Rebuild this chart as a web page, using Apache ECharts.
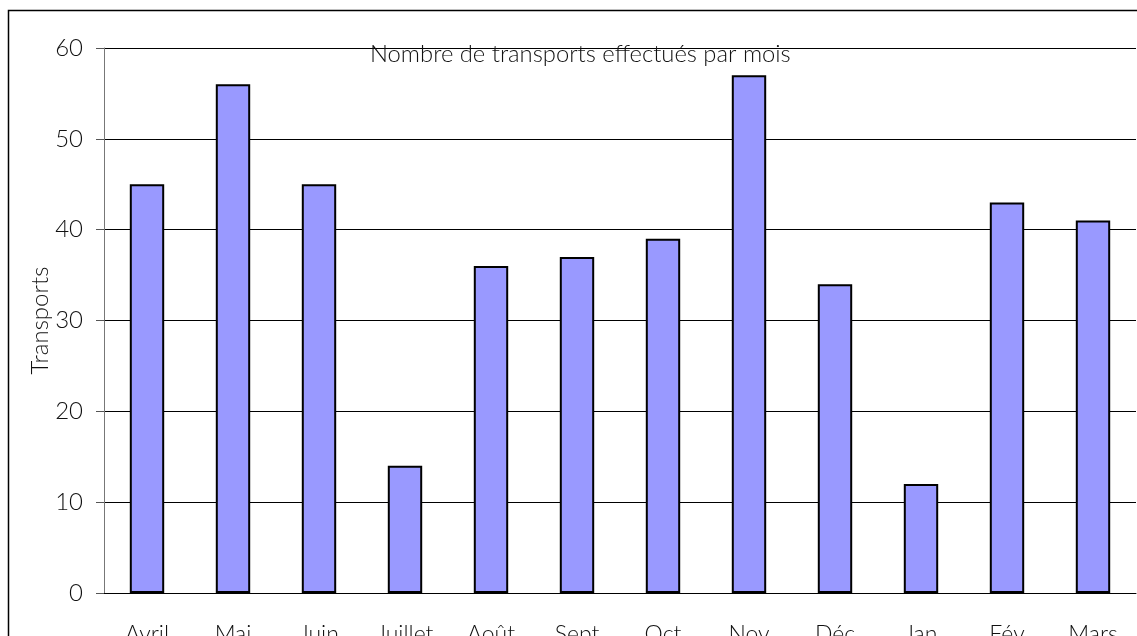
<!DOCTYPE html>
<html>
<head>
<meta charset="utf-8">
<script src="https://cdn.jsdelivr.net/npm/echarts@6/dist/echarts.min.js"></script>
<style>
  html, body { margin: 0; padding: 0; background: #fff; }
  #chart { width: 1137px; height: 636px; }
</style>
</head>
<body>
<div id="chart"></div>
<script>
// mois (avril -> mars)
const months = ['Avril', 'Mai', 'Juin', 'Juillet', 'Août', 'Sept', 'Oct', 'Nov', 'Déc', 'Jan', 'Fév', 'Mars']
const transports = [45, 56, 45, 14, 36, 37, 39, 57, 34, 12, 43, 41]
const yTicks = [0, 10, 20, 30, 40, 50, 60]

const font = 'Lato, "Open Sans", sans-serif'
const chart = echarts.init(document.getElementById('chart'))

chart.setOption({
  animation: false,
  graphic: [
    {
      type: 'rect',
      shape: { x: 8.5, y: 10.5, width: 1200, height: 700 },
      style: { fill: 'none', stroke: '#000', lineWidth: 1.5 },
      z: 0
    },
    {
      type: 'text',
      left: 370,
      top: 42,
      style: { text: 'Nombre de transports effectués par mois', font: '300 23.8px ' + font, fill: '#111' },
      z: 10
    }
  ],
  grid: { left: 104, top: 48, right: 1, bottom: 43, outerBoundsMode: 'none' },
  xAxis: {
    type: 'category',
    data: months,
    axisLine: { lineStyle: { color: '#000', width: 1 } },
    axisTick: { show: false },
    axisLabel: { margin: 30, fontSize: 23, fontFamily: font, fontWeight: 300, color: '#111', interval: 0 }
  },
  yAxis: {
    type: 'value',
    min: 0,
    max: 60,
    interval: 10,
    name: 'Transports',
    nameLocation: 'middle',
    nameGap: 52,
    nameMoveOverlap: false,
    nameTextStyle: { fontSize: 24, fontFamily: font, fontWeight: 300, color: '#111' },
    axisLine: { show: true, lineStyle: { color: '#777', width: 1 } },
    axisTick: { show: true, inside: false, length: 8, lineStyle: { color: '#555' } },
    axisLabel: {
      margin: 21, fontSize: 24, fontFamily: font, fontWeight: 300, color: '#111',
      formatter: v => yTicks.includes(v) ? String(v) : ''
    },
    splitLine: { lineStyle: { color: '#000', width: 1 } }
  },
  series: [{
    type: 'bar',
    data: transports,
    barWidth: '40%',
    itemStyle: { color: '#9999FF', borderColor: '#000', borderWidth: 2 }
  }]
})
</script>
</body>
</html>
